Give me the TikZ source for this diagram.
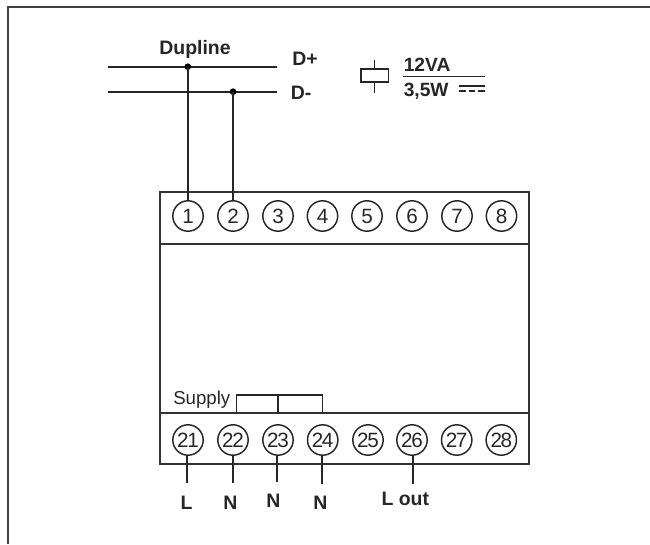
\documentclass[tikz,border=0pt]{standalone}
\usepackage{fontspec}
\setmainfont{Liberation Sans}
\newfontfamily\termf[LetterSpace=-7]{Liberation Sans}
\tikzset{
 px/.style={x=0.75pt,y=-0.75pt},
 wire/.style={line width=1.25pt,draw=black!85},
 frame/.style={line width=1.3pt,draw=black!80},
 term/.style={circle,draw=black!85,line width=1.1pt,minimum size=22.8pt,inner sep=0pt,font=\fontsize{15.5}{15.5}\selectfont\termf,text=black!85},
 lab/.style={font=\fontsize{14.6}{16}\selectfont\bfseries,text=black!85,inner sep=0pt},
 dotn/.style={circle,fill=black,inner sep=0pt,minimum size=5pt}
}
\begin{document}
\begin{tikzpicture}[px]
\useasboundingbox (0,0) rectangle (650,544);
\coordinate (fr1) at (650,6.5); \coordinate (fr2) at (8,6.5); \coordinate (fr3) at (8,544);
\draw[line width=1.5pt,draw=black!75] (fr1) -- (fr2) -- (fr3);
% module
\draw[frame] (160,192.3) rectangle (529.3,464.3);
\draw[frame] (160,244) -- (529.3,244);
\draw[frame] (160,412.8) -- (529.3,412.8);
% top terminals
\foreach \n/\x in {1/188,2/233,3/278,4/322.5,5/367,6/412,7/457,8/501.5}
  \node[term] (t\n) at (\x,216) {\n};
\foreach \n/\x in {21/188,22/233,23/278,24/322.7,25/368,26/412,27/456.7,28/501.3}
  \node[term] (t\n) at (\x,440) {\n};
% bus
\coordinate (dpa) at (108,66.7); \coordinate (dpb) at (277,66.7);
\coordinate (dma) at (108,91.7); \coordinate (dmb) at (277,91.7);
\draw[wire] (dpa) -- (dpb);
\draw[wire] (dma) -- (dmb);
\node[dotn] (j1) at (187.8,66.7) {};
\node[dotn] (j2) at (233.1,91.7) {};
\draw[wire] (j1.center) -- (j1.center |- t1.north);
\draw[wire] (j2.center) -- (j2.center |- t2.north);
\node[lab,anchor=base] (dup) at (195,54) {Dupline};
\node[lab,anchor=base west] (dplus) at (292,65) {D+};
\node[lab,anchor=base west] (dminus) at (290.5,99.5) {D-};
% coil
\draw[line width=1.3pt,draw=black!85] (361,69) rectangle (388.5,82.2);
\coordinate (ca) at (374.4,60); \coordinate (cb) at (374.4,69);
\coordinate (cc) at (374.4,82.2); \coordinate (cd) at (374.4,93);
\draw[line width=1pt,draw=black!85] (ca) -- (cb);
\draw[line width=1pt,draw=black!85] (cc) -- (cd);
\node[font=\fontsize{14.4}{16}\selectfont\bfseries,text=black!85,anchor=base west,inner sep=0pt] (va) at (403.5,71.7) {12VA};
\node[font=\fontsize{14.4}{16}\selectfont\bfseries,text=black!85,anchor=base west,inner sep=0pt] (w) at (403.5,96.7) {3,5W};
\coordinate (fa) at (403,76.7); \coordinate (fb) at (485,76.7);
\draw[line width=1.1pt,draw=black!85] (fa) -- (fb);
\coordinate (ga) at (459,86); \coordinate (gb) at (485,86);
\coordinate (ha) at (459,91); \coordinate (hb) at (485,91);
\draw[line width=0.85pt,draw=black!85] (ga) -- (gb);
\draw[line width=0.85pt,draw=black!85,dash pattern=on 5.2pt off 1.95pt] (ha) -- (hb);
% supply
\node[font=\fontsize{14}{16}\selectfont,text=black!85,anchor=base west,inner sep=0pt] (sup) at (173,404) {Supply};
\coordinate (s1) at (236.7,412.8); \coordinate (s2) at (278,412.8); \coordinate (s3) at (322.7,412.8);
\draw[line width=0.95pt,draw=black!85] (s1) -- (236.7,395) -- (322.7,395) -- (s3);
\draw[line width=0.95pt,draw=black!85] (s2) -- (278,395);
% outputs
\coordinate (oL) at (187.3,483); \coordinate (o22) at (232.7,483); \coordinate (o23) at (276.7,482);
\coordinate (o24) at (322.3,484); \coordinate (o26) at (412.9,484);
\draw[wire] (oL |- t21.south) -- (oL);
\draw[wire] (o22 |- t22.south) -- (o22);
\draw[wire] (o23 |- t23.south) -- (o23);
\draw[wire] (o24 |- t24.south) -- (o24);
\draw[wire] (o26 |- t26.south) -- (o26);
\node[lab,anchor=base] (lL) at (186.5,509) {L};
\node[lab,anchor=base] (lN1) at (230.5,509) {N};
\node[lab,anchor=base] (lN2) at (273.5,507) {N};
\node[lab,anchor=base] (lN3) at (320.5,509) {N};
\node[lab,anchor=base] (lO) at (405.3,505.7) {L out};
\end{tikzpicture}
\end{document}
